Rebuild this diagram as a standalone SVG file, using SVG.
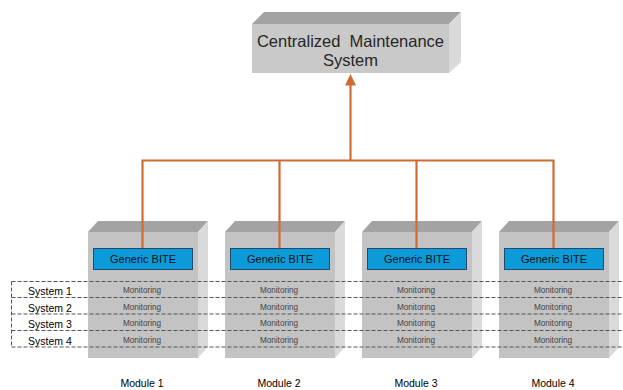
<svg xmlns="http://www.w3.org/2000/svg" width="623" height="390" viewBox="0 0 623 390">
  <defs>
    <style>
      .front { fill: #c3c3c3; }
      .top { fill: #a3a3a3; }
      .side { fill: #dadada; }
      .cms-front { fill: #c9c9c9; }
      .bite { fill: #0d9ad8; stroke: #234a6e; stroke-width: 1; }
      .wire { fill: none; stroke: #d06a35; stroke-width: 2.2; }
      .head { fill: #d06a35; }
      .row { fill: none; stroke: #555; stroke-width: 1; stroke-dasharray: 4 2; }
      text { font-family: "Liberation Sans", Arial, sans-serif; fill: #111; }
      .title { font-size: 16.5px; text-anchor: middle; fill: #262626; }
      .bite-t { font-size: 11px; text-anchor: middle; }
      .mon { font-size: 8.2px; text-anchor: middle; fill: #444; }
      .sys { font-size: 10.5px; text-anchor: middle; fill: #000; }
      .mod { font-size: 10.5px; text-anchor: middle; fill: #000; }
    </style>
    <!-- one module cabinet: front face, lid and right-hand side -->
    <g id="cabinet">
      <polygon class="top" points="0,11 10,0 120,0 110,11"/>
      <polygon class="side" points="110,11 120,0 120,126 110,137"/>
      <rect class="front" x="0" y="11" width="110" height="126"/>
    </g>
  </defs>

  <!-- central maintenance system -->
  <g id="cms">
    <polygon class="top" points="252,24 264,12 461,12 449,24"/>
    <polygon class="side" points="449,24 461,12 461,62 449,73"/>
    <rect class="cms-front" x="252" y="24" width="197" height="49"/>
    <text class="title" x="350.5" y="47" xml:space="preserve">Centralized  Maintenance</text>
    <text class="title" x="350.5" y="66">System</text>
  </g>

  <!-- modules -->
  <g id="module1">
    <use href="#cabinet" x="88" y="221"/>
    <rect class="bite" x="93.5" y="248.5" width="99" height="21"/>
    <text class="bite-t" x="143" y="263">Generic BITE</text>
    <text class="mon" x="142" y="293">Monitoring</text>
    <text class="mon" x="142" y="309.5">Monitoring</text>
    <text class="mon" x="142" y="326">Monitoring</text>
    <text class="mon" x="142" y="342.5">Monitoring</text>
    <text class="mod" x="142" y="387">Module 1</text>
  </g>
  <g id="module2">
    <use href="#cabinet" x="225" y="221"/>
    <rect class="bite" x="230.5" y="248.5" width="99" height="21"/>
    <text class="bite-t" x="280" y="263">Generic BITE</text>
    <text class="mon" x="279" y="293">Monitoring</text>
    <text class="mon" x="279" y="309.5">Monitoring</text>
    <text class="mon" x="279" y="326">Monitoring</text>
    <text class="mon" x="279" y="342.5">Monitoring</text>
    <text class="mod" x="279" y="387">Module 2</text>
  </g>
  <g id="module3">
    <use href="#cabinet" x="362" y="221"/>
    <rect class="bite" x="367.5" y="248.5" width="99" height="21"/>
    <text class="bite-t" x="417" y="263">Generic BITE</text>
    <text class="mon" x="416" y="293">Monitoring</text>
    <text class="mon" x="416" y="309.5">Monitoring</text>
    <text class="mon" x="416" y="326">Monitoring</text>
    <text class="mon" x="416" y="342.5">Monitoring</text>
    <text class="mod" x="416" y="387">Module 3</text>
  </g>
  <g id="module4">
    <use href="#cabinet" x="499" y="221"/>
    <rect class="bite" x="504.5" y="248.5" width="99" height="21"/>
    <text class="bite-t" x="554" y="263">Generic BITE</text>
    <text class="mon" x="553" y="293">Monitoring</text>
    <text class="mon" x="553" y="309.5">Monitoring</text>
    <text class="mon" x="553" y="326">Monitoring</text>
    <text class="mon" x="553" y="342.5">Monitoring</text>
    <text class="mod" x="553" y="387">Module 4</text>
  </g>

  <!-- system rows spanning all modules -->
  <g id="systems">
    <path class="row" d="M11.5,281.5 H623 M11.5,297.5 H623 M11.5,314 H623 M11.5,330.5 H623 M11.5,347 H623 M11.5,281.5 V347"/>
    <text class="sys" x="50" y="295">System 1</text>
    <text class="sys" x="50" y="311.5">System 2</text>
    <text class="sys" x="50" y="328">System 3</text>
    <text class="sys" x="50" y="344.5">System 4</text>
  </g>

  <!-- connectors from each BITE up to the maintenance system -->
  <g id="connectors">
    <path class="wire" d="M142.5,248 V160.5 H553.5 V248 M279.5,160.5 V248 M416.5,160.5 V248"/>
    <path class="wire" d="M350.5,160.5 V85"/>
    <polygon class="head" points="350.5,74 356,85.5 345,85.5"/>
  </g>
</svg>
